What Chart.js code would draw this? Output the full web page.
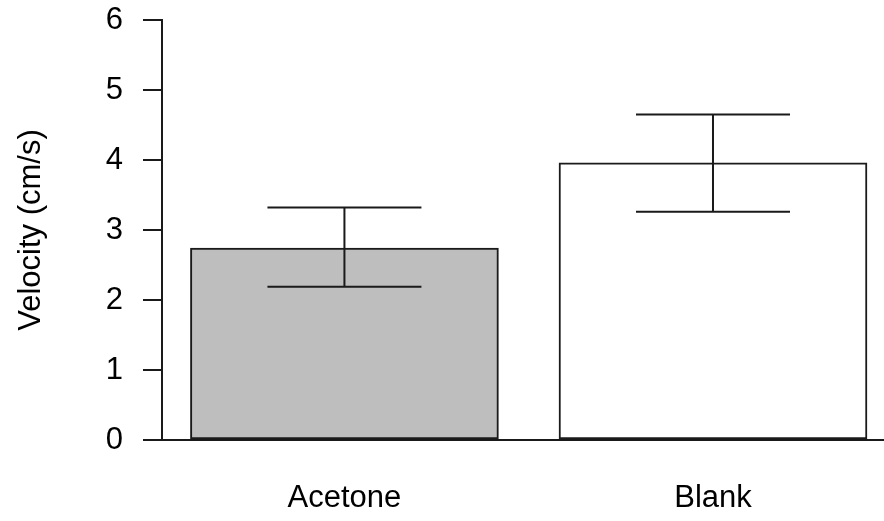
<!DOCTYPE html>
<html>
<head>
<meta charset="utf-8">
<script src="https://cdn.jsdelivr.net/npm/chart.js@4/dist/chart.umd.min.js"></script>
<style>
  html, body { margin: 0; padding: 0; background: #ffffff; }
  #wrap { width: 884px; height: 521px; position: relative; }
</style>
</head>
<body>
<div id="wrap"><canvas id="chart" width="884" height="521"></canvas></div>
<script>
// Mean velocity per treatment, with the lower and upper ends of the error bars
const categories = ["Acetone", "Blank"];
const velocity = [2.74, 3.96];
const errLow = [2.19, 3.26];
const errHigh = [3.32, 4.65];
const barFill = ["#bebebe", "#ffffff"];
const yTicks = [0, 1, 2, 3, 4, 5, 6];

const INK = "#1a1a1a";
const FONT = "'Liberation Sans', Arial, sans-serif";

// Draws vertical error bars with end caps at half the bar width
const errorBars = {
  id: "errorBars",
  afterDatasetsDraw(chart) {
    const { ctx, scales: { x, y } } = chart;
    const meta = chart.getDatasetMeta(0);
    ctx.save();
    ctx.strokeStyle = INK;
    ctx.lineWidth = 2;
    meta.data.forEach((bar, i) => {
      const cx = x.getPixelForValue(i);
      const half = bar.width / 4;
      const yLo = y.getPixelForValue(errLow[i]);
      const yHi = y.getPixelForValue(errHigh[i]);
      ctx.beginPath();
      ctx.moveTo(cx, yLo); ctx.lineTo(cx, yHi);
      ctx.moveTo(cx - half, yHi); ctx.lineTo(cx + half, yHi);
      ctx.moveTo(cx - half, yLo); ctx.lineTo(cx + half, yLo);
      ctx.stroke();
    });
    ctx.restore();
  }
};

new Chart(document.getElementById("chart"), {
  type: "bar",
  data: {
    datasets: [{
      data: velocity.map((v, i) => ({ x: i, y: v })),
      backgroundColor: barFill,
      borderColor: INK,
      borderWidth: 2,
      borderSkipped: false,
      barThickness: 308
    }]
  },
  options: {
    responsive: false,
    animation: false,
    layout: { padding: { top: 20, left: 0, right: 0, bottom: 0 } },
    plugins: { legend: { display: false }, tooltip: { enabled: false } },
    scales: {
      x: {
        type: "linear",
        offset: false,
        min: -0.495,
        max: 1.464,
        afterBuildTicks: (s) => { s.ticks = categories.map((c, i) => ({ value: i })); },
        afterFit: (s) => { s.height = 81; s.paddingLeft = 0; s.paddingRight = 0; },
        ticks: {
          callback: (v) => categories[v],
          color: "#000",
          font: { family: FONT, size: 31 },
          padding: 40,
          maxRotation: 0,
          autoSkip: false
        },
        grid: { display: false, drawTicks: false },
        border: { display: true, color: INK, width: 2 }
      },
      y: {
        min: 0,
        max: 6,
        afterBuildTicks: (s) => { s.ticks = yTicks.map((v) => ({ value: v })); },
        afterFit: (s) => { s.width = 162; s.paddingTop = 0; s.paddingBottom = 0; },
        ticks: {
          color: "#000",
          font: { family: FONT, size: 31 },
          padding: 20
        },
        grid: { drawOnChartArea: false, drawTicks: true, tickLength: 19, color: INK, lineWidth: 2 },
        border: { display: true, color: INK, width: 2 },
        title: {
          display: true,
          text: "Velocity (cm/s)",
          color: "#000",
          font: { family: FONT, size: 31 },
          padding: { top: 13, bottom: 0 }
        }
      }
    }
  },
  plugins: [errorBars]
});
</script>
</body>
</html>
